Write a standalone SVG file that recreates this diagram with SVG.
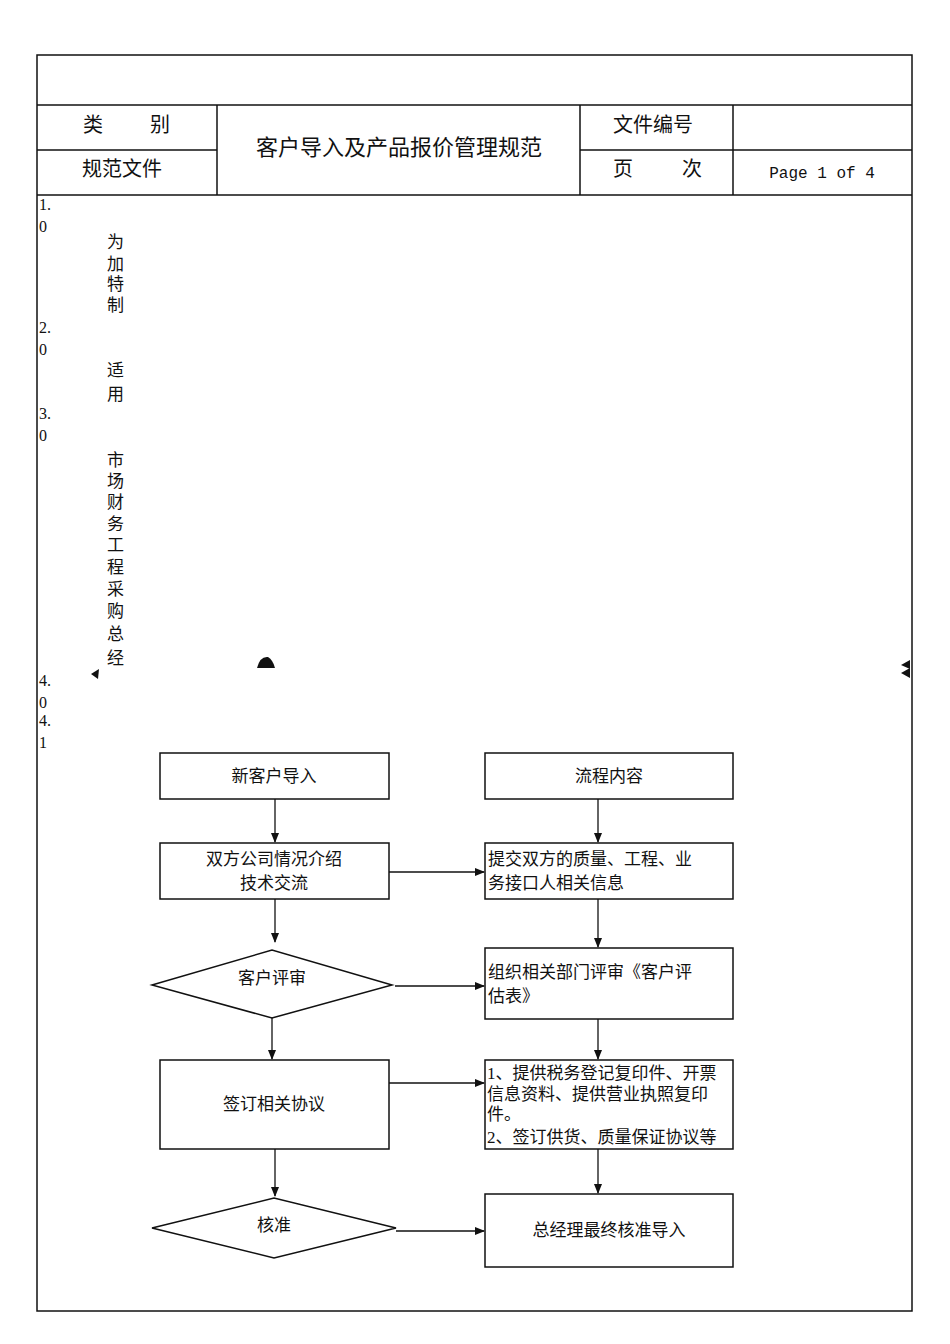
<svg xmlns="http://www.w3.org/2000/svg" width="950" height="1344" viewBox="0 0 950 1344">
<style>
text{font-family:"Liberation Serif","Noto Sans CJK SC",serif;fill:#111}
.h{font-size:20px}
.t{font-size:22px}
.n{font-size:16px}
.f{font-size:17px}
.m{font-family:"Liberation Mono",monospace;font-size:16px}
.b{fill:#fff;stroke:#111;stroke-width:1.5}
.c line{stroke:#111;stroke-width:1.3;marker-end:url(#a)}
.g{stroke:#111;stroke-width:1.5}
</style>
<defs><marker id="a" markerWidth="10" markerHeight="8" refX="9" refY="4" orient="auto" markerUnits="userSpaceOnUse"><path d="M0,0L10,4L0,8z" fill="#111"/></marker></defs>
<rect width="950" height="1344" fill="#fff"/>
<g id="frame" fill="none">
<rect x="37" y="55" width="875" height="1256" class="g"/>
<line x1="37" y1="105" x2="912" y2="105" class="g"/>
<line x1="37" y1="150" x2="217" y2="150" class="g"/>
<line x1="580" y1="150" x2="912" y2="150" class="g"/>
<line x1="37" y1="195" x2="912" y2="195" class="g"/>
<line x1="217" y1="105" x2="217" y2="195" class="g"/>
<line x1="580" y1="105" x2="580" y2="195" class="g"/>
<line x1="733" y1="105" x2="733" y2="195" class="g"/>
</g>
<g id="header">
<text x="83" y="132" class="h">类</text><text x="150" y="132" class="h">别</text>
<text x="82" y="176" class="h">规范文件</text>
<text x="399" y="155" class="t" text-anchor="middle">客户导入及产品报价管理规范</text>
<text x="613" y="132" class="h">文件编号</text>
<text x="613" y="176" class="h">页</text><text x="682" y="176" class="h">次</text>
<text x="822" y="178" class="m" text-anchor="middle">Page 1 of 4</text>
</g>
<g id="sections" class="n">
<text x="39" y="210">1.</text><text x="39" y="232">0</text>
<text x="39" y="333">2.</text><text x="39" y="355">0</text>
<text x="39" y="419">3.</text><text x="39" y="441">0</text>
<text x="39" y="686">4.</text><text x="39" y="708">0</text>
<text x="39" y="726">4.</text><text x="39" y="748">1</text>
<text x="107" y="248" class="f">为</text><text x="107" y="270" class="f">加</text><text x="107" y="290" class="f">特</text><text x="107" y="311" class="f">制</text>
<text x="107" y="376" class="f">适</text><text x="107" y="400" class="f">用</text>
<text x="107" y="466" class="f">市</text><text x="107" y="487" class="f">场</text><text x="107" y="508" class="f">财</text><text x="107" y="530" class="f">务</text><text x="107" y="551" class="f">工</text><text x="107" y="573" class="f">程</text><text x="107" y="595" class="f">采</text><text x="107" y="617" class="f">购</text><text x="107" y="640" class="f">总</text><text x="107" y="664" class="f">经</text>
</g>
<g id="marks" fill="#111">
<path d="M257,668 Q260,656 268,657 Q273,660 275,668 Z"/>
<path d="M91,674 L99,669 L98,679 Z"/>
<path d="M901,665 L910,660 L910,669 Z"/>
<path d="M901,673 L910,668 L910,678 Z"/>
</g>
<g id="n1"><rect x="160" y="753" width="229" height="46" class="b"/><text x="274" y="782" class="f" text-anchor="middle">新客户导入</text></g>
<g id="n2"><rect x="485" y="753" width="248" height="46" class="b"/><text x="609" y="782" class="f" text-anchor="middle">流程内容</text></g>
<g id="n3"><rect x="160" y="843" width="229" height="56" class="b"/><text x="274" y="865" class="f" text-anchor="middle">双方公司情况介绍</text><text x="274" y="889" class="f" text-anchor="middle">技术交流</text></g>
<g id="n4"><rect x="485" y="843" width="248" height="56" class="b"/><text x="488" y="865" class="f">提交双方的质量、工程、业</text><text x="488" y="889" class="f">务接口人相关信息</text></g>
<g id="n5"><polygon points="152,985 272,950 392,985 272,1018" class="b"/><text x="272" y="984" class="f" text-anchor="middle">客户评审</text></g>
<g id="n6"><rect x="485" y="948" width="248" height="71" class="b"/><text x="488" y="978" class="f">组织相关部门评审《客户评</text><text x="488" y="1002" class="f">估表》</text></g>
<g id="n7"><rect x="160" y="1060" width="229" height="89" class="b"/><text x="274" y="1110" class="f" text-anchor="middle">签订相关协议</text></g>
<g id="n8"><rect x="485" y="1060" width="248" height="89" class="b"/><text x="487" y="1079" class="f">1、提供税务登记复印件、开票</text><text x="487" y="1100" class="f">信息资料、提供营业执照复印</text><text x="487" y="1120" class="f">件。</text><text x="487" y="1143" class="f">2、签订供货、质量保证协议等</text></g>
<g id="n9"><polygon points="152,1228 274,1198 396,1228 274,1258" class="b"/><text x="274" y="1231" class="f" text-anchor="middle">核准</text></g>
<g id="n10"><rect x="485" y="1194" width="248" height="73" class="b"/><text x="609" y="1236" class="f" text-anchor="middle">总经理最终核准导入</text></g>
<g id="connectors" class="c">
<line x1="275" y1="799" x2="275" y2="842"/>
<line x1="598" y1="799" x2="598" y2="842"/>
<line x1="389" y1="872" x2="484" y2="872"/>
<line x1="275" y1="899" x2="275" y2="942"/>
<line x1="598" y1="899" x2="598" y2="947"/>
<line x1="395" y1="986" x2="484" y2="986"/>
<line x1="272" y1="1018" x2="272" y2="1059"/>
<line x1="598" y1="1019" x2="598" y2="1059"/>
<line x1="389" y1="1083" x2="484" y2="1083"/>
<line x1="275" y1="1149" x2="275" y2="1196"/>
<line x1="598" y1="1149" x2="598" y2="1193"/>
<line x1="396" y1="1231" x2="484" y2="1231"/>
</g>
</svg>
